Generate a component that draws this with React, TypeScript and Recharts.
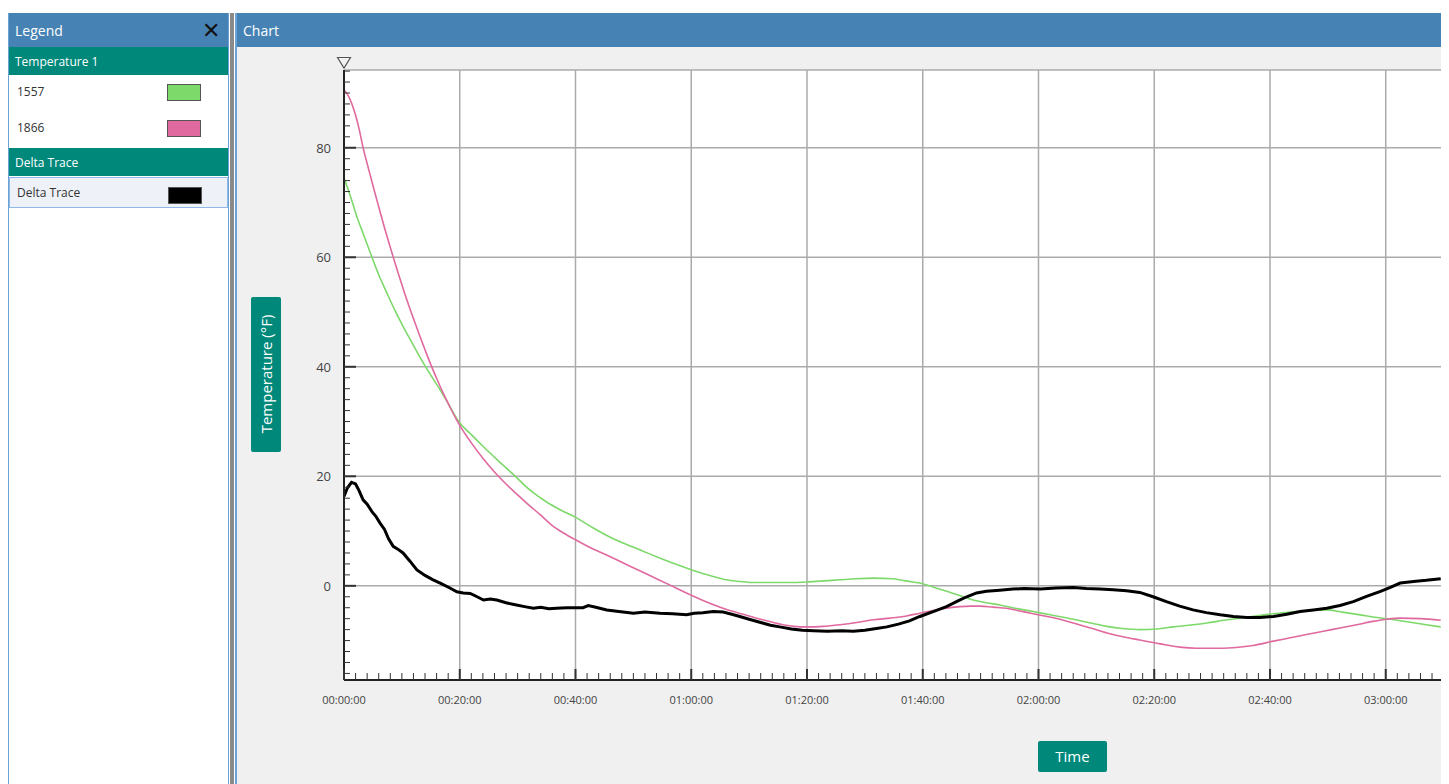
import React from 'react';
import { LineChart, Line, XAxis, YAxis, CartesianGrid } from 'recharts';

// elapsed time in minutes, temperature in °F
const minutes1557 = [0, 1, 2.2, 3.5, 4.8, 6, 7.4, 8.8, 10.2, 11.7, 13, 14.5, 16.6, 18, 19.8, 22, 24.1, 26.5, 29.3, 32, 35, 37.5, 40.2, 43, 45.4, 48, 51.1, 54, 56.9, 60.1, 63.8, 66, 68.4, 71, 74.2, 77, 80, 83, 85.7, 88.5, 91.5, 94.9, 97, 99.5, 102, 104.1, 106.5, 108.7, 111, 113.3, 116, 119.1, 122, 126, 129, 131.8, 134.5, 137.5, 140.5, 143.3, 146, 149.1, 152, 154.8, 157.5, 160.6, 163.5, 166.5, 169.8, 172.5, 175.6, 178.5, 181.4, 184.5, 187, 189.5];
const temps1557 = [74.5, 71.5, 67.5, 63.8, 60.1, 56.8, 53.5, 50.3, 47.4, 44.5, 42.0, 39.3, 35.8, 33.3, 30.0, 27.6, 25.4, 23.0, 20.3, 17.6, 15.3, 13.8, 12.4, 10.6, 9.2, 7.9, 6.6, 5.3, 4.1, 2.9, 1.7, 1.1, 0.8, 0.6, 0.6, 0.6, 0.7, 0.9, 1.1, 1.3, 1.4, 1.3, 0.9, 0.5, -0.3, -1.0, -1.8, -2.6, -3.1, -3.5, -4.1, -4.7, -5.3, -6.1, -6.8, -7.4, -7.8, -8.0, -7.9, -7.5, -7.2, -6.8, -6.3, -5.9, -5.5, -5.1, -4.8, -4.5, -4.4, -4.8, -5.3, -5.8, -6.2, -6.7, -7.1, -7.5];

const minutes1866 = [0, 0.8, 1.9, 2.6, 3.3, 4, 5, 6, 7, 8, 9, 10, 11, 12, 13, 14, 15, 16, 17, 18, 19, 20, 22, 24, 26, 28, 30, 32, 34, 36, 38, 40, 42.5, 45, 48, 51, 54, 57, 60, 63, 66, 69, 72, 75, 77.7, 80, 82.8, 85.7, 88.6, 91.5, 94.4, 97.2, 99.5, 101.8, 104.1, 106.4, 108.2, 109.9, 112.2, 114.5, 116.8, 119.1, 121.5, 123.7, 126, 129, 131.8, 134.6, 137.5, 141, 144.4, 147.3, 150.2, 153.6, 157.1, 160.6, 163.5, 166.3, 169.2, 172.1, 175, 177.8, 180.2, 182.5, 186, 189.5];
const temps1866 = [90.6, 89.4, 86.3, 83.5, 80.0, 77.1, 73.1, 69.2, 65.4, 61.8, 58.3, 55.0, 51.8, 48.8, 45.9, 43.1, 40.4, 37.9, 35.5, 33.3, 31.2, 29.3, 26.1, 23.3, 20.8, 18.6, 16.6, 14.7, 12.9, 11.0, 9.6, 8.4, 7.0, 5.8, 4.3, 2.8, 1.3, -0.2, -1.7, -3.1, -4.3, -5.2, -6.1, -6.9, -7.4, -7.5, -7.4, -7.1, -6.7, -6.2, -5.9, -5.5, -5.0, -4.5, -4.1, -3.8, -3.7, -3.7, -3.9, -4.1, -4.6, -5.1, -5.6, -6.1, -6.8, -7.7, -8.6, -9.3, -9.9, -10.6, -11.2, -11.4, -11.4, -11.3, -10.9, -10.1, -9.5, -8.9, -8.3, -7.7, -7.1, -6.5, -6.1, -5.9, -6.0, -6.3];

const minutesDelta = [0, 0.6, 1.3, 2, 2.6, 3.3, 4, 4.8, 5.5, 6.2, 7, 7.7, 8.5, 9.3, 10.2, 11.4, 12.6, 14, 15.4, 16.8, 18.3, 19.5, 20.6, 21.8, 23, 24.1, 25.3, 26.4, 28, 29.8, 31.2, 32.7, 34, 35.4, 36.7, 38.5, 40.2, 41.3, 42.2, 43.5, 45.4, 47.5, 50, 52, 54.6, 56.8, 59.2, 60.5, 62, 63.8, 65.5, 67, 68.4, 70, 72, 73.7, 75.3, 77.3, 79.2, 81.1, 83.5, 86, 88, 90, 92, 93.8, 95.8, 97.7, 99.5, 101.8, 104.1, 106, 107.6, 109.3, 111, 113.3, 115.6, 117.5, 120.3, 123, 126, 128.3, 130.6, 132.9, 135.2, 137.5, 139.8, 142.1, 144.4, 146.7, 149, 151.4, 153.7, 156, 158.3, 160.6, 162.9, 165.2, 167.5, 169.8, 172.1, 174.4, 176.8, 179.1, 180.8, 182.5, 184.8, 187, 189.5];
const tempsDelta = [16.3, 17.9, 18.9, 18.6, 17.4, 15.7, 14.9, 13.6, 12.7, 11.5, 10.3, 8.6, 7.2, 6.7, 6.0, 4.5, 2.9, 1.9, 1.1, 0.4, -0.4, -1.1, -1.3, -1.4, -2.0, -2.6, -2.4, -2.6, -3.1, -3.5, -3.8, -4.1, -3.9, -4.2, -4.1, -4.0, -4.0, -4.0, -3.6, -3.9, -4.4, -4.7, -5.0, -4.8, -5.0, -5.1, -5.3, -5.0, -4.9, -4.7, -4.8, -5.2, -5.6, -6.1, -6.7, -7.2, -7.5, -7.9, -8.1, -8.2, -8.3, -8.2, -8.3, -8.1, -7.8, -7.5, -7.0, -6.4, -5.6, -4.7, -3.8, -2.8, -2.0, -1.3, -1.0, -0.8, -0.6, -0.5, -0.6, -0.4, -0.3, -0.5, -0.6, -0.7, -0.9, -1.2, -2.0, -2.9, -3.7, -4.4, -4.9, -5.3, -5.6, -5.8, -5.8, -5.6, -5.2, -4.7, -4.4, -4.1, -3.6, -2.9, -1.9, -1.0, -0.3, 0.5, 0.8, 1.0, 1.3];

const xMajorTicks = [0, 20, 40, 60, 80, 100, 120, 140, 160, 180];
const yMajorTicks = [0, 20, 40, 60, 80];
const xDomain: [number, number] = [0, 189.55];
const yDomain: [number, number] = [-17.2, 94.2];
const xAllTicks = Array.from({ length: 95 }, (_, i) => i * 2);
const yAllTicks = Array.from({ length: 56 }, (_, i) => -16 + i * 2);

const GREEN = '#7ED96B';
const PINK = '#E0699F';
const BLUE = '#4682B4';
const TEAL = '#00887A';
const FONT = '"Open Sans", "Noto Sans", sans-serif';

const toPoints = (ts: number[], vs: number[]) => ts.map((t, i) => ({ t, v: vs[i] }));
const data1557 = toPoints(minutes1557, temps1557);
const data1866 = toPoints(minutes1866, temps1866);
const dataDelta = toPoints(minutesDelta, tempsDelta);

const fmtTime = (m: number) => {
  const h = Math.floor(m / 60);
  const mm = Math.round(m % 60);
  const p = (n: number) => String(n).padStart(2, '0');
  return `${p(h)}:${p(mm)}:00`;
};

const XTick = (props: any) => {
  const { x, y, payload } = props;
  const major = payload.value % 20 === 0;
  return (
    <g>
      <line x1={x} x2={x} y1={y} y2={y - (major ? 11 : 7)} stroke="#333" strokeWidth={major ? 2 : 1} />
      {major && (
        <text x={x} y={y + 24} textAnchor="middle" fontSize={11} fill="#444" fontFamily={FONT}>
          {fmtTime(payload.value)}
        </text>
      )}
    </g>
  );
};

const YTick = (props: any) => {
  const { x, y, payload } = props;
  const major = payload.value % 20 === 0;
  return (
    <g>
      <line x1={x} x2={x + (major ? 12 : 6)} y1={y} y2={y} stroke="#333" strokeWidth={major ? 2 : 1} />
      {major && (
        <text x={x - 13} y={y + 5} textAnchor="end" fontSize={13} fill="#444" fontFamily={FONT}>
          {payload.value}
        </text>
      )}
    </g>
  );
};

const Swatch = ({ color }: { color: string }) => (
  <div style={{ position: 'absolute', left: 158, top: 9, width: 32, height: 15, background: color, border: '1px solid #555' }} />
);

const LegendRow = ({ top, label, color, selected }: { top: number; label: string; color: string; selected?: boolean }) => (
  <div
    style={{
      position: 'absolute', left: 0, top, width: 219, height: selected ? 31 : 34, boxSizing: 'border-box',
      background: selected ? '#EEF1F8' : 'transparent',
      border: selected ? '1px solid #8FB8E8' : 'none',
    }}
  >
    <span style={{ position: 'absolute', left: selected ? 7 : 8, top: selected ? 6 : 8, fontSize: 12, color: '#333' }}>{label}</span>
    <Swatch color={color} />
  </div>
);

export default function App() {
  return (
    <div style={{ position: 'absolute', left: 0, top: 0, width: 1449, height: 784, background: '#fff', fontFamily: FONT, overflow: 'hidden' }}>
      {/* legend panel */}
      <div style={{ position: 'absolute', left: 8, top: 13, width: 221, height: 771, background: '#fff', borderLeft: '1px solid #6BA3D6', borderRight: '1px solid #6BA3D6', boxSizing: 'border-box' }}>
        <div style={{ position: 'absolute', left: 0, top: 0, right: 0, height: 34, background: BLUE, color: '#fff' }}>
          <span style={{ position: 'absolute', left: 6, top: 8, fontSize: 14 }}>Legend</span>
          <span style={{ position: 'absolute', right: 8, top: 1, fontSize: 22, color: '#111' }}>✕</span>
        </div>
        <div style={{ position: 'absolute', left: 0, top: 34, right: 0, height: 28, background: TEAL, color: '#fff' }}>
          <span style={{ position: 'absolute', left: 6, top: 6, fontSize: 12 }}>Temperature 1</span>
        </div>
        <LegendRow top={62} label="1557" color={GREEN} />
        <LegendRow top={98} label="1866" color={PINK} />
        <div style={{ position: 'absolute', left: 0, top: 135, right: 0, height: 28, background: TEAL, color: '#fff' }}>
          <span style={{ position: 'absolute', left: 6, top: 6, fontSize: 12 }}>Delta Trace</span>
        </div>
        <LegendRow top={164} label="Delta Trace" color="#000" selected />
      </div>

      {/* splitter */}
      <div style={{ position: 'absolute', left: 230, top: 13, width: 4, height: 771, background: '#8A8A8A' }} />

      {/* chart panel */}
      <div style={{ position: 'absolute', left: 235, top: 13, width: 1206, height: 771, background: '#F0F0F0', borderLeft: '2px solid #6BA3D6', boxSizing: 'border-box' }}>
        <div style={{ position: 'absolute', left: 0, top: 0, right: 0, height: 34, background: BLUE, color: '#fff' }}>
          <span style={{ position: 'absolute', left: 6, top: 8, fontSize: 14 }}>Chart</span>
        </div>
      </div>

      <div style={{ position: 'absolute', left: 238, top: 47 }}>
        <LineChart width={1203} height={737} margin={{ top: 23, right: 0, bottom: 74, left: 46 }}>
          <CartesianGrid
            fill="#fff"
            stroke="#ABABAB"
            strokeWidth={1.5}
            horizontalValues={[...yMajorTicks, yDomain[1]]}
            verticalValues={xMajorTicks}
          />
          <XAxis
            type="number"
            dataKey="t"
            domain={xDomain}
            allowDataOverflow
            ticks={xAllTicks}
            interval={0}
            tickSize={0}
            tickMargin={0}
            height={30}
            axisLine={{ stroke: '#222', strokeWidth: 2 }}
            tickLine={false}
            tick={<XTick />}
          />
          <YAxis
            type="number"
            domain={yDomain}
            allowDataOverflow
            ticks={yAllTicks}
            interval={0}
            tickSize={0}
            tickMargin={0}
            width={60}
            axisLine={{ stroke: '#222', strokeWidth: 2 }}
            tickLine={false}
            tick={<YTick />}
          />
          <Line data={data1557} dataKey="v" name="1557" type="monotone" stroke={GREEN} strokeWidth={1.6} dot={false} isAnimationActive={false} />
          <Line data={data1866} dataKey="v" name="1866" type="monotone" stroke={PINK} strokeWidth={1.6} dot={false} isAnimationActive={false} />
          <Line data={dataDelta} dataKey="v" name="Delta Trace" type="linear" stroke="#000" strokeWidth={3} dot={false} isAnimationActive={false} />
        </LineChart>
      </div>

      {/* cursor marker at top of the y axis */}
      <svg style={{ position: 'absolute', left: 336, top: 56 }} width={16} height={14}>
        <polygon points="1.5,1.5 14.5,1.5 8,12" fill="#F0F0F0" stroke="#555" strokeWidth={1.2} />
      </svg>

      {/* axis titles */}
      <div style={{ position: 'absolute', left: 251, top: 297, width: 30, height: 155, background: TEAL, borderRadius: 2 }}>
        <div style={{ position: 'absolute', left: 15, top: 77, transform: 'translate(-50%, -50%) rotate(-90deg)', whiteSpace: 'nowrap', color: '#fff', fontSize: 15 }}>
          Temperature (°F)
        </div>
      </div>
      <div style={{ position: 'absolute', left: 1038, top: 741, width: 69, height: 31, background: TEAL, borderRadius: 2, color: '#fff', fontSize: 15, textAlign: 'center', lineHeight: '31px' }}>
        Time
      </div>
    </div>
  );
}
